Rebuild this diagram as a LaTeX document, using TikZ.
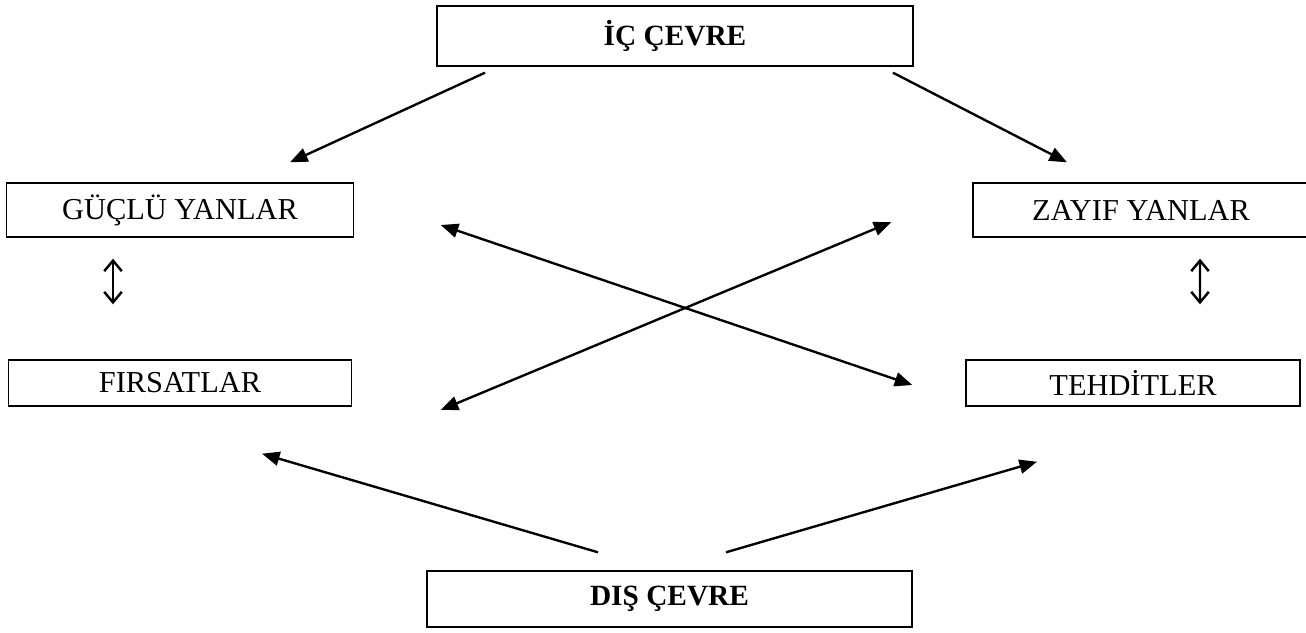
\documentclass[tikz,border=0pt]{standalone}
\usepackage{fontspec}
\setmainfont{Liberation Serif}
\usetikzlibrary{positioning,arrows.meta}

\begin{document}
\begin{tikzpicture}[
    box/.style = {draw, line width=0.8pt, minimum height=1.08cm,
      inner sep=0pt, font=\fontsize{17.3}{20}\selectfont},
    boldbox/.style = {box, font=\fontsize{16.7}{20}\selectfont\bfseries},
    arr/.style = {-{Triangle[length=10pt,width=8pt]}, line width=1.35pt},
    both/.style = {{Triangle[length=10pt,width=8pt]}-{Triangle[length=10pt,width=8pt]},
      line width=1.35pt},
    updown/.style = {{Straight Barb[length=6pt,width=10pt]}-{Straight Barb[length=6pt,width=10pt]},
      line width=1.4pt},
    on grid
  ]
  \useasboundingbox (0,0) rectangle (26.12,-12.64);

  % top and bottom
  \node[boldbox, minimum width=9.52cm, minimum height=1.2cm] (ic) at (13.5,-0.72) {İÇ ÇEVRE};
  \node[boldbox, minimum width=9.7cm, minimum height=1.12cm,
    below=11.26cm of ic, xshift=-0.11cm] (dis) {DIŞ ÇEVRE};

  % four sides
  \node[box, minimum width=6.94cm, below left=3.48cm and 9.9cm of ic] (guclu) {GÜÇLÜ YANLAR};
  \node[box, minimum width=6.72cm, below right=3.48cm and 9.32cm of ic] (zayif) {ZAYIF YANLAR};
  \node[box, minimum width=6.86cm, minimum height=0.92cm, below=3.46cm of guclu] (firsat) {FIRSATLAR};
  \node[box, minimum width=6.68cm, minimum height=0.92cm,
    below=3.46cm of zayif, xshift=-0.16cm] (tehdit) {TEHDİTLER};

  \draw[arr] ([shift={(-3.8,-0.12)}]ic.south) -- ([shift={(2.2,0.4)}]guclu.north);
  \draw[arr] ([shift={(4.36,-0.12)}]ic.south) -- ([shift={(-1.48,0.4)}]zayif.north);

  \draw[updown] ([shift={(-1.34,-0.42)}]guclu.south) -- ([shift={(-1.34,1.1)}]firsat.north);
  \draw[updown] ([shift={(1.18,-0.42)}]zayif.south) -- ([shift={(1.34,1.1)}]tehdit.north);

  \draw[both] ([shift={(1.73,-0.3)}]guclu.east) -- ([shift={(-1.06,-0.04)}]tehdit.west);
  \draw[both] ([shift={(1.77,-0.54)}]firsat.east) -- ([shift={(-1.62,-0.24)}]zayif.west);

  \draw[arr] ([shift={(-1.43,0.36)}]dis.north) -- ([shift={(1.64,-0.94)}]firsat.south);
  \draw[arr] ([shift={(1.13,0.36)}]dis.north) -- ([shift={(-1.92,-1.1)}]tehdit.south);
\end{tikzpicture}
\end{document}
